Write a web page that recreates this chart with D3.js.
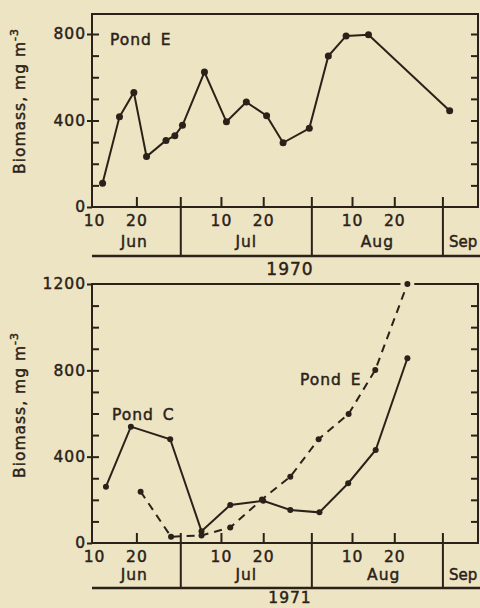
<!DOCTYPE html>
<html><head><meta charset="utf-8">
<script src="https://cdn.jsdelivr.net/npm/d3@7"></script>
<style>
html,body{margin:0;padding:0;background:#ede4c3;}
svg{display:block;}
text{font-family:"DejaVu Sans",sans-serif;fill:#2a2218;stroke:#2a2218;stroke-width:0.45px;}
</style></head><body>
<svg id="c" width="480" height="608"></svg>
<script>
// Days counted from 31 May (1 Jun = 1, 1 Jul = 31, 1 Aug = 62, 1 Sep = 93)
const pondE1970Day = [12, 16, 19.4, 22.4, 27, 29.1, 30.9, 36.1, 41.3, 46, 50.8, 54.7, 60.9, 65.4, 69.6, 74.9, 94.1];
const pondE1970Val = [110, 417, 530, 233, 308, 330, 378, 624, 394, 485, 422, 297, 364, 698, 791, 797, 445];

const pondC1971Day = [12.8, 18.7, 28, 35.4, 42.2, 50, 56.4, 63.3, 70.1, 76.6, 84.1];
const pondC1971Val = [261, 539, 481, 55, 176, 196, 153, 142, 277, 431, 856];

const pondE1971Day = [21, 28.2, 35.4, 42.2, 49.7, 56.4, 63.1, 70.2, 76.5, 84.1];
const pondE1971Val = [238, 29, 35, 72, 202, 307, 481, 598, 802, 1200];

const dayLabelDays = [10, 20, 40, 50, 71, 81];
const dayLabels = ["10", "20", "10", "20", "10", "20"];
const monthStartDays = [31, 62, 93];
const months = ["Jun", "Jul", "Aug", "Sep"];
const years = ["1970", "1971"];
const yMajor1970 = [0, 400, 800];
const yMajor1971 = [0, 400, 800, 1200];
const yTitle = "Biomass, mg m";
const yTitleSup = "-3";

const ink = "#2a2218", bg = "#ede4c3";
const svg = d3.select("#c");
const x = d3.scaleLinear().domain([9.5, 100.8]).range([92, 478]);

function panel(cfg) {
  const g = svg.append("g");
  const y = d3.scaleLinear().domain([0, cfg.yMax]).range([cfg.bottom, cfg.yMaxPx]);
  const x0 = x.range()[0], x1 = x.range()[1];
  const minor = d3.range(100, cfg.frameMax, 100);

  g.append("rect").attr("x", x0).attr("y", cfg.top).attr("width", x1 - x0).attr("height", cfg.bottom - cfg.top)
    .attr("fill", "none").attr("stroke", ink).attr("stroke-width", 2);

  const lm = g.append("g").attr("transform", `translate(${x0},0)`)
    .call(d3.axisLeft(y).tickValues(minor).tickSize(-7).tickFormat(""));
  const lM = g.append("g").attr("transform", `translate(${x0},0)`)
    .call(d3.axisLeft(y).tickValues(cfg.major).tickSize(5).tickPadding(1).tickFormat(d3.format("d")));
  const rm = g.append("g").attr("transform", `translate(${x1},0)`)
    .call(d3.axisRight(y).tickValues(minor).tickSize(-7).tickFormat(""));
  const tickDays = dayLabelDays.filter(d => x(d) - x0 > 5);
  const xt = g.append("g").attr("transform", `translate(0,${cfg.bottom})`)
    .call(d3.axisTop(x).tickValues(tickDays).tickSize(10).tickFormat(""));
  const xl = g.append("g").attr("transform", `translate(0,${cfg.bottom})`)
    .call(d3.axisBottom(x).tickValues(dayLabelDays).tickSize(0).tickPadding(cfg.dayPad)
      .tickFormat((d, i) => dayLabels[i]));
  [lm, lM, rm, xt, xl].forEach(a => {
    a.select(".domain").remove();
    a.selectAll("line").attr("stroke", ink).attr("stroke-width", 2);
    a.selectAll("text").attr("fill", ink).style("font-size", "15.5px").style("letter-spacing", "1px")
      .style("font-family", '"DejaVu Sans",sans-serif');
  });

  g.selectAll(".div").data(monthStartDays).join("line")
    .attr("x1", d => x(d - 0.5)).attr("x2", d => x(d - 0.5))
    .attr("y1", cfg.bottom - 10).attr("y2", cfg.lineY)
    .attr("stroke", ink).attr("stroke-width", 2);
  g.append("line").attr("x1", x0).attr("x2", 480).attr("y1", cfg.lineY).attr("y2", cfg.lineY)
    .attr("stroke", ink).attr("stroke-width", 2.5);

  const monthPos = [x(19.5), x(46), x(cfg.augDay)];
  months.slice(0, 3).forEach((m, i) => {
    g.append("text").attr("x", monthPos[i]).attr("y", cfg.monthY).attr("text-anchor", "middle")
      .style("font-size", "15.5px").style("letter-spacing", "1px").text(m);
  });
  g.append("text").attr("x", x(monthStartDays[2] - 0.5) + 6).attr("y", cfg.monthY)
    .style("font-size", "15px").style("letter-spacing", "0px").text(months[3]);
  g.append("text").attr("x", 290).attr("y", cfg.yearY).attr("text-anchor", "middle")
    .style("font-size", cfg.yearSize).style("letter-spacing", "1px").text(cfg.year);

  const t = g.append("text").attr("transform", `translate(25,${cfg.titleY}) rotate(-90)`)
    .attr("text-anchor", "middle").style("font-size", "15.5px").style("letter-spacing", "1px");
  t.append("tspan").text(yTitle);
  t.append("tspan").attr("dy", -7).style("font-size", "11px").text(yTitleSup);

  cfg.series.forEach(s => {
    const pts = s.days.map((d, i) => ({d, v: s.vals[i]}));
    const line = d3.line().x(p => x(p.d)).y(p => y(p.v));
    g.append("path").datum(pts).attr("d", line).attr("fill", "none").attr("stroke", ink)
      .attr("stroke-width", 2).attr("stroke-dasharray", s.dash || null);
    g.selectAll(null).data(pts.filter(p => p.v >= cfg.frameMax)).join("circle")
      .attr("cx", p => x(p.d)).attr("cy", p => y(p.v)).attr("r", 7).attr("fill", bg);
    g.selectAll(null).data(pts).join("circle")
      .attr("cx", p => x(p.d)).attr("cy", p => y(p.v)).attr("r", cfg.r).attr("fill", ink);
  });
  cfg.labels.forEach(l => {
    g.append("text").attr("x", l.x).attr("y", l.y).style("font-size", "15.5px")
      .style("letter-spacing", "1px").style("word-spacing", "3px").text(l.t);
  });
}

panel({
  top: 14, bottom: 207, yMax: 800, yMaxPx: 34, frameMax: 900, major: yMajor1970,
  lineY: 256, monthY: 247, yearY: 275, yearSize: "17px", dayPad: 8, augDay: 77, year: years[0], titleY: 101, r: 3.5,
  series: [{days: pondE1970Day, vals: pondE1970Val}],
  labels: [{x: 110, y: 45, t: "Pond E"}]
});
panel({
  top: 284, bottom: 543, yMax: 1200, yMaxPx: 284, frameMax: 1200, major: yMajor1971,
  lineY: 588, monthY: 580, yearY: 603, yearSize: "15.5px", dayPad: 8, augDay: 78.5, year: years[1], titleY: 405, r: 3,
  series: [{days: pondC1971Day, vals: pondC1971Val}, {days: pondE1971Day, vals: pondE1971Val, dash: "8,6"}],
  labels: [{x: 112, y: 420, t: "Pond C"}, {x: 300, y: 385, t: "Pond E"}]
});
</script>
</body></html>
